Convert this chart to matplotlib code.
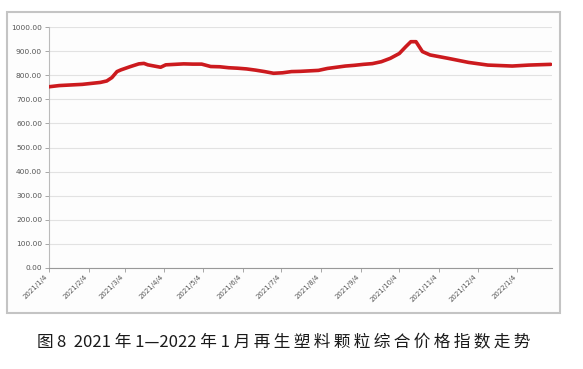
import matplotlib
matplotlib.use("Agg")
import matplotlib.pyplot as plt
from matplotlib.patches import Rectangle
import pandas as pd

plt.rcParams['font.family'] = ['Noto Sans CJK SC', 'DejaVu Sans']

dates = ["2021-01-04", "2021-01-12", "2021-01-30", "2021-02-13", "2021-02-18",
         "2021-02-22", "2021-02-26", "2021-03-01", "2021-03-08", "2021-03-15",
         "2021-03-19", "2021-03-22", "2021-03-29", "2021-04-01", "2021-04-05",
         "2021-04-12", "2021-04-19", "2021-04-26", "2021-05-03", "2021-05-10",
         "2021-05-17", "2021-05-24", "2021-05-31", "2021-06-07", "2021-06-14",
         "2021-06-21", "2021-06-28", "2021-07-05", "2021-07-12", "2021-07-19",
         "2021-07-26", "2021-08-02", "2021-08-09", "2021-08-16", "2021-08-23",
         "2021-08-30", "2021-09-06", "2021-09-13", "2021-09-20", "2021-09-27",
         "2021-10-04", "2021-10-09", "2021-10-13", "2021-10-17", "2021-10-22",
         "2021-10-28", "2021-11-11", "2021-11-27", "2021-12-12", "2021-12-31",
         "2022-01-13", "2022-01-30"]
values = [752, 757, 762, 770, 776,
          790, 815, 822, 835, 847,
          849, 843, 836, 833, 843,
          845, 847, 846, 846, 836,
          835, 831, 829, 826, 821,
          815, 808, 810, 815, 816,
          818, 820, 828, 833, 838,
          841, 845, 848, 856, 870,
          890, 918, 939, 939, 898,
          884, 870, 853, 842, 838,
          842, 845]

tick_dates = ["2021-01-04", "2021-02-04", "2021-03-04", "2021-04-04", "2021-05-04",
              "2021-06-04", "2021-07-04", "2021-08-04", "2021-09-04", "2021-10-04",
              "2021-11-04", "2021-12-04", "2022-01-04"]
tick_labels = ["2021/1/4", "2021/2/4", "2021/3/4", "2021/4/4", "2021/5/4",
               "2021/6/4", "2021/7/4", "2021/8/4", "2021/9/4", "2021/10/4",
               "2021/11/4", "2021/12/4", "2022/1/4"]
y_ticks = [0, 100, 200, 300, 400, 500, 600, 700, 800, 900, 1000]
caption = ("图\u20098  2021 年 1—2022 年 1 月"
           "\u2009再\u2009生\u2009塑\u2009料\u2009颗\u2009粒\u2009综\u2009合"
           "\u2009价\u2009格\u2009指\u2009数\u2009走\u2009势")

x = pd.to_datetime(dates)
xt = pd.to_datetime(tick_dates)

fig = plt.figure(figsize=(5.83, 3.69), dpi=100)
fig.patch.set_facecolor('white')

# outer chart frame
frame = Rectangle((7/583, 1-313/369), (560-7)/583, (313-12)/369,
                  transform=fig.transFigure, facecolor='#fdfdfd',
                  edgecolor='#c4c4c4', linewidth=1.5, zorder=-10)
fig.patches.append(frame)

ax = fig.add_axes([49/583, 1-268/369, (552-49)/583, (268-27)/369])
ax.set_zorder(1)
ax.set_facecolor('none')
ax.plot(x, values, color='#cc1a1e', linewidth=2.6, solid_capstyle='round',
        solid_joinstyle='round', zorder=3)

ax.set_ylim(0, 1000)
ax.set_xlim(pd.Timestamp("2021-01-04"), pd.Timestamp("2022-01-31"))
ax.set_yticks(y_ticks)
ax.set_yticklabels([f"{v:.2f}" for v in y_ticks], fontsize=5.3, color='#555555',
                   family=['DejaVu Sans'])
ax.set_xticks(xt)
ax.set_xticklabels(tick_labels, rotation=45, ha='right', va='top', fontsize=5.0,
                   color='#555555', family=['DejaVu Sans'])
ax.tick_params(axis='y', length=3, width=0.6, color='#999999', pad=2)
ax.tick_params(axis='x', length=3, width=0.6, color='#999999', pad=1)
ax.grid(axis='y', color='#e2e2e2', linewidth=0.8)
for s in ['top', 'right']:
    ax.spines[s].set_visible(False)
ax.spines['left'].set_color('#bbbbbb')
ax.spines['left'].set_linewidth(0.8)
ax.spines['bottom'].set_color('#999999')
ax.spines['bottom'].set_linewidth(0.8)
ax.set_axisbelow(True)

fig.text(284/583, 1-343/369, caption, ha='center', va='center', fontsize=12,
         color='#1a1a1a')

fig.savefig("out.png", dpi=100)
